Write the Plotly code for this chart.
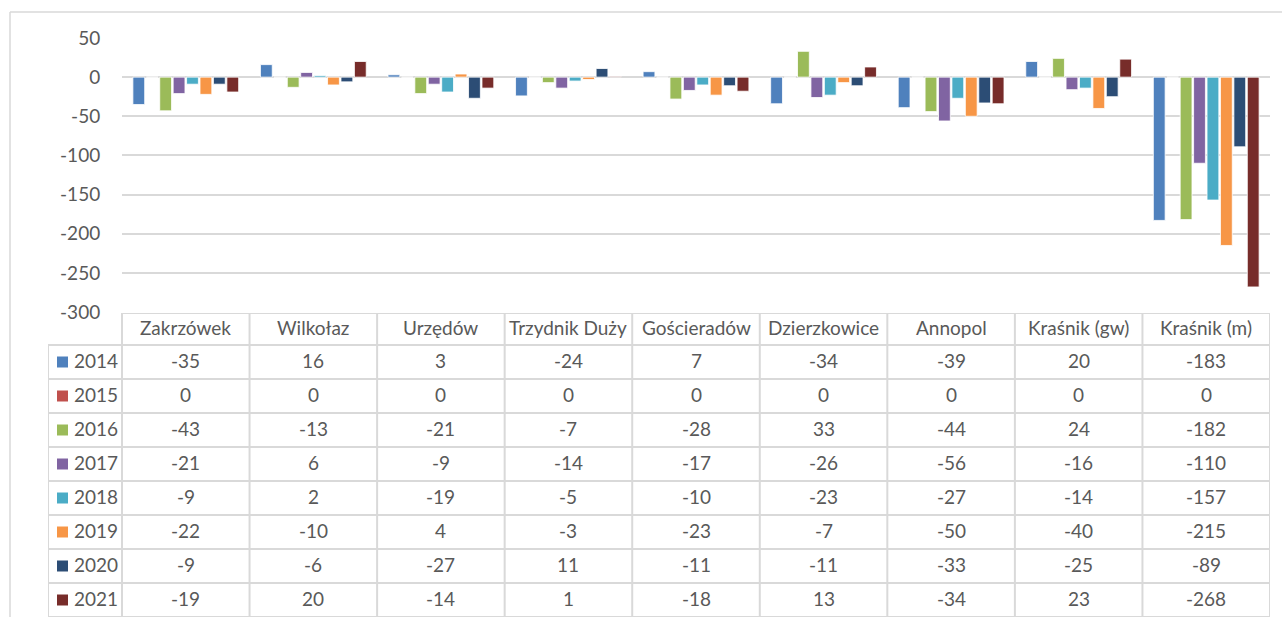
import plotly.graph_objects as go

categories = ["Zakrzówek", "Wilkołaz", "Urzędów", "Trzydnik Duży", "Gościeradów",
              "Dzierzkowice", "Annopol", "Kraśnik (gw)", "Kraśnik (m)"]
years = ["2014", "2015", "2016", "2017", "2018", "2019", "2020", "2021"]
v2014 = [-35, 16, 3, -24, 7, -34, -39, 20, -183]
v2015 = [0, 0, 0, 0, 0, 0, 0, 0, 0]
v2016 = [-43, -13, -21, -7, -28, 33, -44, 24, -182]
v2017 = [-21, 6, -9, -14, -17, -26, -56, -16, -110]
v2018 = [-9, 2, -19, -5, -10, -23, -27, -14, -157]
v2019 = [-22, -10, 4, -3, -23, -7, -50, -40, -215]
v2020 = [-9, -6, -27, 11, -11, -11, -33, -25, -89]
v2021 = [-19, 20, -14, 1, -18, 13, -34, 23, -268]
series = [v2014, v2015, v2016, v2017, v2018, v2019, v2020, v2021]
colors = ["#4F81BD", "#C0504D", "#9BBB59", "#8064A2", "#4BACC6", "#F79646", "#2C4D75", "#772C2A"]
y_ticks = [50, 0, -50, -100, -150, -200, -250, -300]

W, H = 1282, 617
FONT = "Lato"
TXT = "#595959"
GRID = "#d9d9d9"
FS = 19

# pixel layout
plot_l, plot_r, plot_t, plot_b = 122, 1270, 38, 312
tab_l, tab_t = 48, 313
cat_w = (plot_r - plot_l) / len(categories)
leg_w = (plot_l - tab_l) / cat_w
x2_left = -0.5 - leg_w
head_h = 32 / 34.0
txt_dy = 2 / 34.0  # small upward nudge of cell text

fig = go.Figure()
for name, color, vals in zip(years, colors, series):
    fig.add_trace(go.Bar(
        x=categories, y=vals, name=name, xaxis="x", yaxis="y",
        marker=dict(color=color, line=dict(color="rgba(255,255,255,0.8)", width=1)),
        showlegend=False, hoverinfo="x+y+name"))

# legend keys in table
fig.add_trace(go.Scatter(
    x=[x2_left + 14.5 / cat_w] * len(years), y=[i + 0.5 for i in range(len(years))],
    mode="markers", xaxis="x2", yaxis="y2", showlegend=False, hoverinfo="skip",
    marker=dict(symbol="square", size=11, color=colors, line=dict(width=0))))

shapes = []
line = dict(color=GRID, width=2)
n_rows = len(years)
n_cols = len(categories)
for k in range(n_rows + 1):
    shapes.append(dict(type="line", xref="x2", yref="y2", x0=x2_left, x1=n_cols - 0.5,
                       y0=k, y1=k, line=line))
shapes.append(dict(type="line", xref="x2", yref="y2", x0=-0.5, x1=n_cols - 0.5,
                   y0=-head_h, y1=-head_h, line=line))
for j in range(n_cols + 1):
    shapes.append(dict(type="line", xref="x2", yref="y2", x0=-0.5 + j, x1=-0.5 + j,
                       y0=-head_h, y1=n_rows, line=line))
shapes.append(dict(type="line", xref="x2", yref="y2", x0=x2_left, x1=x2_left,
                   y0=0, y1=n_rows, line=line))
# chart area border (left + top)
shapes.append(dict(type="line", xref="paper", yref="paper", x0=10 / W, x1=10 / W,
                   y0=0, y1=1 - 12 / H, line=dict(color=GRID, width=1.5)))
shapes.append(dict(type="line", xref="paper", yref="paper", x0=10 / W, x1=1,
                   y0=1 - 12 / H, y1=1 - 12 / H, line=dict(color=GRID, width=1.5)))

ann = []
font = dict(family=FONT, size=FS, color=TXT)
for j, c in enumerate(categories):
    ann.append(dict(xref="x2", yref="y2", x=j, y=-head_h / 2 - txt_dy, text=c, showarrow=False,
                    font=font, xanchor="center", yanchor="middle"))
for i, (yr, vals) in enumerate(zip(years, series)):
    ann.append(dict(xref="x2", yref="y2", x=x2_left + 24 / cat_w, y=i + 0.5 - txt_dy, text=yr,
                    showarrow=False, font=font, xanchor="left", yanchor="middle"))
    for j, v in enumerate(vals):
        ann.append(dict(xref="x2", yref="y2", x=j, y=i + 0.5 - txt_dy, text=str(v),
                        showarrow=False, font=font, xanchor="center", yanchor="middle"))

fig.update_layout(
    width=W, height=H, margin=dict(l=0, r=0, t=0, b=0, autoexpand=False),
    paper_bgcolor="white", plot_bgcolor="white",
    barmode="group", bargap=0.158, bargroupgap=0.12,
    font=dict(family=FONT, size=FS, color=TXT),
    xaxis=dict(domain=[plot_l / W, plot_r / W], type="category", range=[-0.5, n_cols - 0.5],
               showticklabels=False, showgrid=False, zeroline=False, showline=False,
               ticks="", anchor="y", automargin=False),
    yaxis=dict(domain=[(H - plot_b) / H, (H - plot_t) / H], range=[-300, 50],
               tickvals=y_ticks, ticktext=[str(t) for t in y_ticks],
               showgrid=True, gridcolor=GRID, gridwidth=2, zeroline=False, showline=False,
               ticks="outside", ticklen=17, tickcolor="rgba(0,0,0,0)",
               tickfont=dict(family=FONT, size=FS, color=TXT), anchor="x", automargin=False),
    xaxis2=dict(domain=[tab_l / W, plot_r / W], range=[x2_left, n_cols - 0.5],
                visible=False, anchor="y2", automargin=False),
    yaxis2=dict(domain=[0, (H - tab_t) / H], range=[n_rows, -head_h],
                visible=False, anchor="x2", automargin=False),
    shapes=shapes, annotations=ann,
)

fig.write_html(
    "out.html",
    config={"displayModeBar": False},
    post_script="document.body.style.margin='0';document.body.style.overflow='hidden';"
)
